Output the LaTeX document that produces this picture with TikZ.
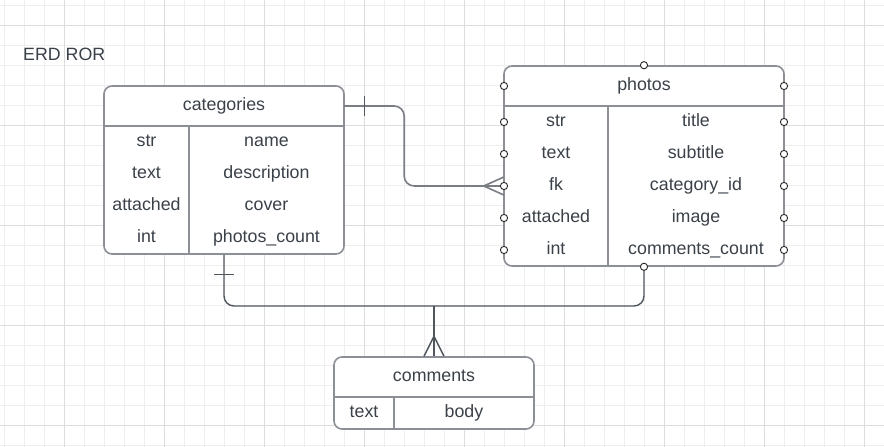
\documentclass[tikz,border=0pt]{standalone}
\usepackage{fontspec}
\setmainfont{Liberation Sans}
\usetikzlibrary{calc}
\definecolor{txt}{HTML}{3B4149}
\definecolor{boxln}{HTML}{8C9096}
\definecolor{connc}{HTML}{7A7E84}
\definecolor{conndark}{HTML}{50565E}
\definecolor{gridmin}{HTML}{EEEEEE}
\definecolor{gridmaj}{HTML}{DDDDDD}
\begin{document}
\begin{tikzpicture}[x=1pt,y=-1pt,
  font=\fontsize{17.8}{20}\selectfont,
  entity/.style={draw=boxln, line width=1.6pt, rounded corners=8pt, fill=white, inner sep=0pt},
  cell/.style={inner sep=0pt, minimum height=32pt, text height=13pt, text depth=3.8pt, text=txt},
  headcell/.style={inner sep=0pt, minimum height=40pt, text height=13pt, text depth=3.8pt, text=txt},
  divider/.style={draw=boxln, line width=1.6pt},
  connline/.style={draw=connc, line width=1.6pt},
  connline2/.style={draw=conndark, line width=1.4pt},
  barln/.style={draw=conndark, line width=1.1pt},
  port/.style={draw=black!85, fill=white, line width=0.9pt},
  gridminor/.style={draw=gridmin, line width=0.8pt},
  gridmajor/.style={draw=gridmaj, line width=0.9pt}]
\useasboundingbox (0,0) rectangle (884,447);
\fill[white] (0,0) rectangle (884,447);
% grid
\foreach \x in {4,24,...,884} \draw[gridminor] (\x,0) -- (\x,447);
\foreach \y in {5,25,...,445} \draw[gridminor] (0,\y) -- (884,\y);
\foreach \x in {64,164,...,864} \draw[gridmajor] (\x,0) -- (\x,447);
\foreach \y in {25,125,...,425} \draw[gridmajor] (0,\y) -- (884,\y);

% title
\node[anchor=west, inner sep=0pt, text=txt] (title) at (23,54) {ERD ROR};

% categories
\node[entity, minimum width=240pt, minimum height=168pt] (cat) at (224,170) {};
\node[headcell, minimum width=240pt] (cathead) at (224,106) {categories};
\draw[divider] (cathead.south west) -- (cathead.south east);
\draw[divider] (189,126) -- (189,254);
\foreach \l/\r [count=\i] in {str/name, text/description, attached/cover, int/photos\_count}{
  \node[cell, minimum width=85pt] (catl\i) at (146.5,110+32*\i) {\l};
  \node[cell, minimum width=155pt] (catr\i) at (266.5,110+32*\i) {\r};
}

% photos
\node[entity, minimum width=280pt, minimum height=200pt] (ph) at (644,166) {};
\node[headcell, minimum width=280pt] (phhead) at (644,86) {photos};
\draw[divider] (phhead.south west) -- (phhead.south east);
\draw[divider] (608,106) -- (608,266);
\foreach \l/\r [count=\i] in {str/title, text/subtitle, fk/category\_id, attached/image, int/comments\_count}{
  \node[cell, minimum width=104pt] (phl\i) at (556,90+32*\i) {\l};
  \node[cell, minimum width=176pt] (phr\i) at (696,90+32*\i) {\r};
}

% comments
\node[entity, minimum width=200pt, minimum height=72pt] (com) at (434,393) {};
\node[headcell, minimum width=200pt] (comhead) at (434,377) {comments};
\draw[divider] (comhead.south west) -- (comhead.south east);
\draw[divider] (394,397) -- (394,429);
\node[cell, minimum width=60pt] (coml) at (364,413) {text};
\node[cell, minimum width=140pt] (comr) at (464,413) {body};

% connector categories -> photos
\draw[connline, rounded corners=10pt] (cathead.east) -- ++(60,0) |- (phl3.west);
\draw[barln] ($(cathead.east)+(20,-10)$) -- ++(0,20);
\draw[connline] ($(phl3.west)+(0,-9)$) -- ($(phl3.west)+(-20,0)$) -- ($(phl3.west)+(0,9)$);

% connector categories / photos -> comments
\coordinate (jn) at (434,306);
\draw[connline2, rounded corners=10pt] (cat.south) |- (jn) -| (ph.south);
\draw[barln] ($(cat.south)+(-10,20)$) -- ++(20,0);
\draw[connline2] (jn) -- (com.north);
\draw[connline2] ($(com.north)+(-10,0)$) -- ($(com.north)+(0,-20)$) -- ($(com.north)+(10,0)$);

% ports on photos
\foreach \y in {86,122,154,186,218,250}{
  \draw[port] (504,\y) circle[radius=3.6pt];
  \draw[port] (784,\y) circle[radius=3.6pt];
}
\draw[port] (ph.north) circle[radius=3.6pt];
\draw[port] (ph.south) circle[radius=3.6pt];
\end{tikzpicture}
\end{document}
